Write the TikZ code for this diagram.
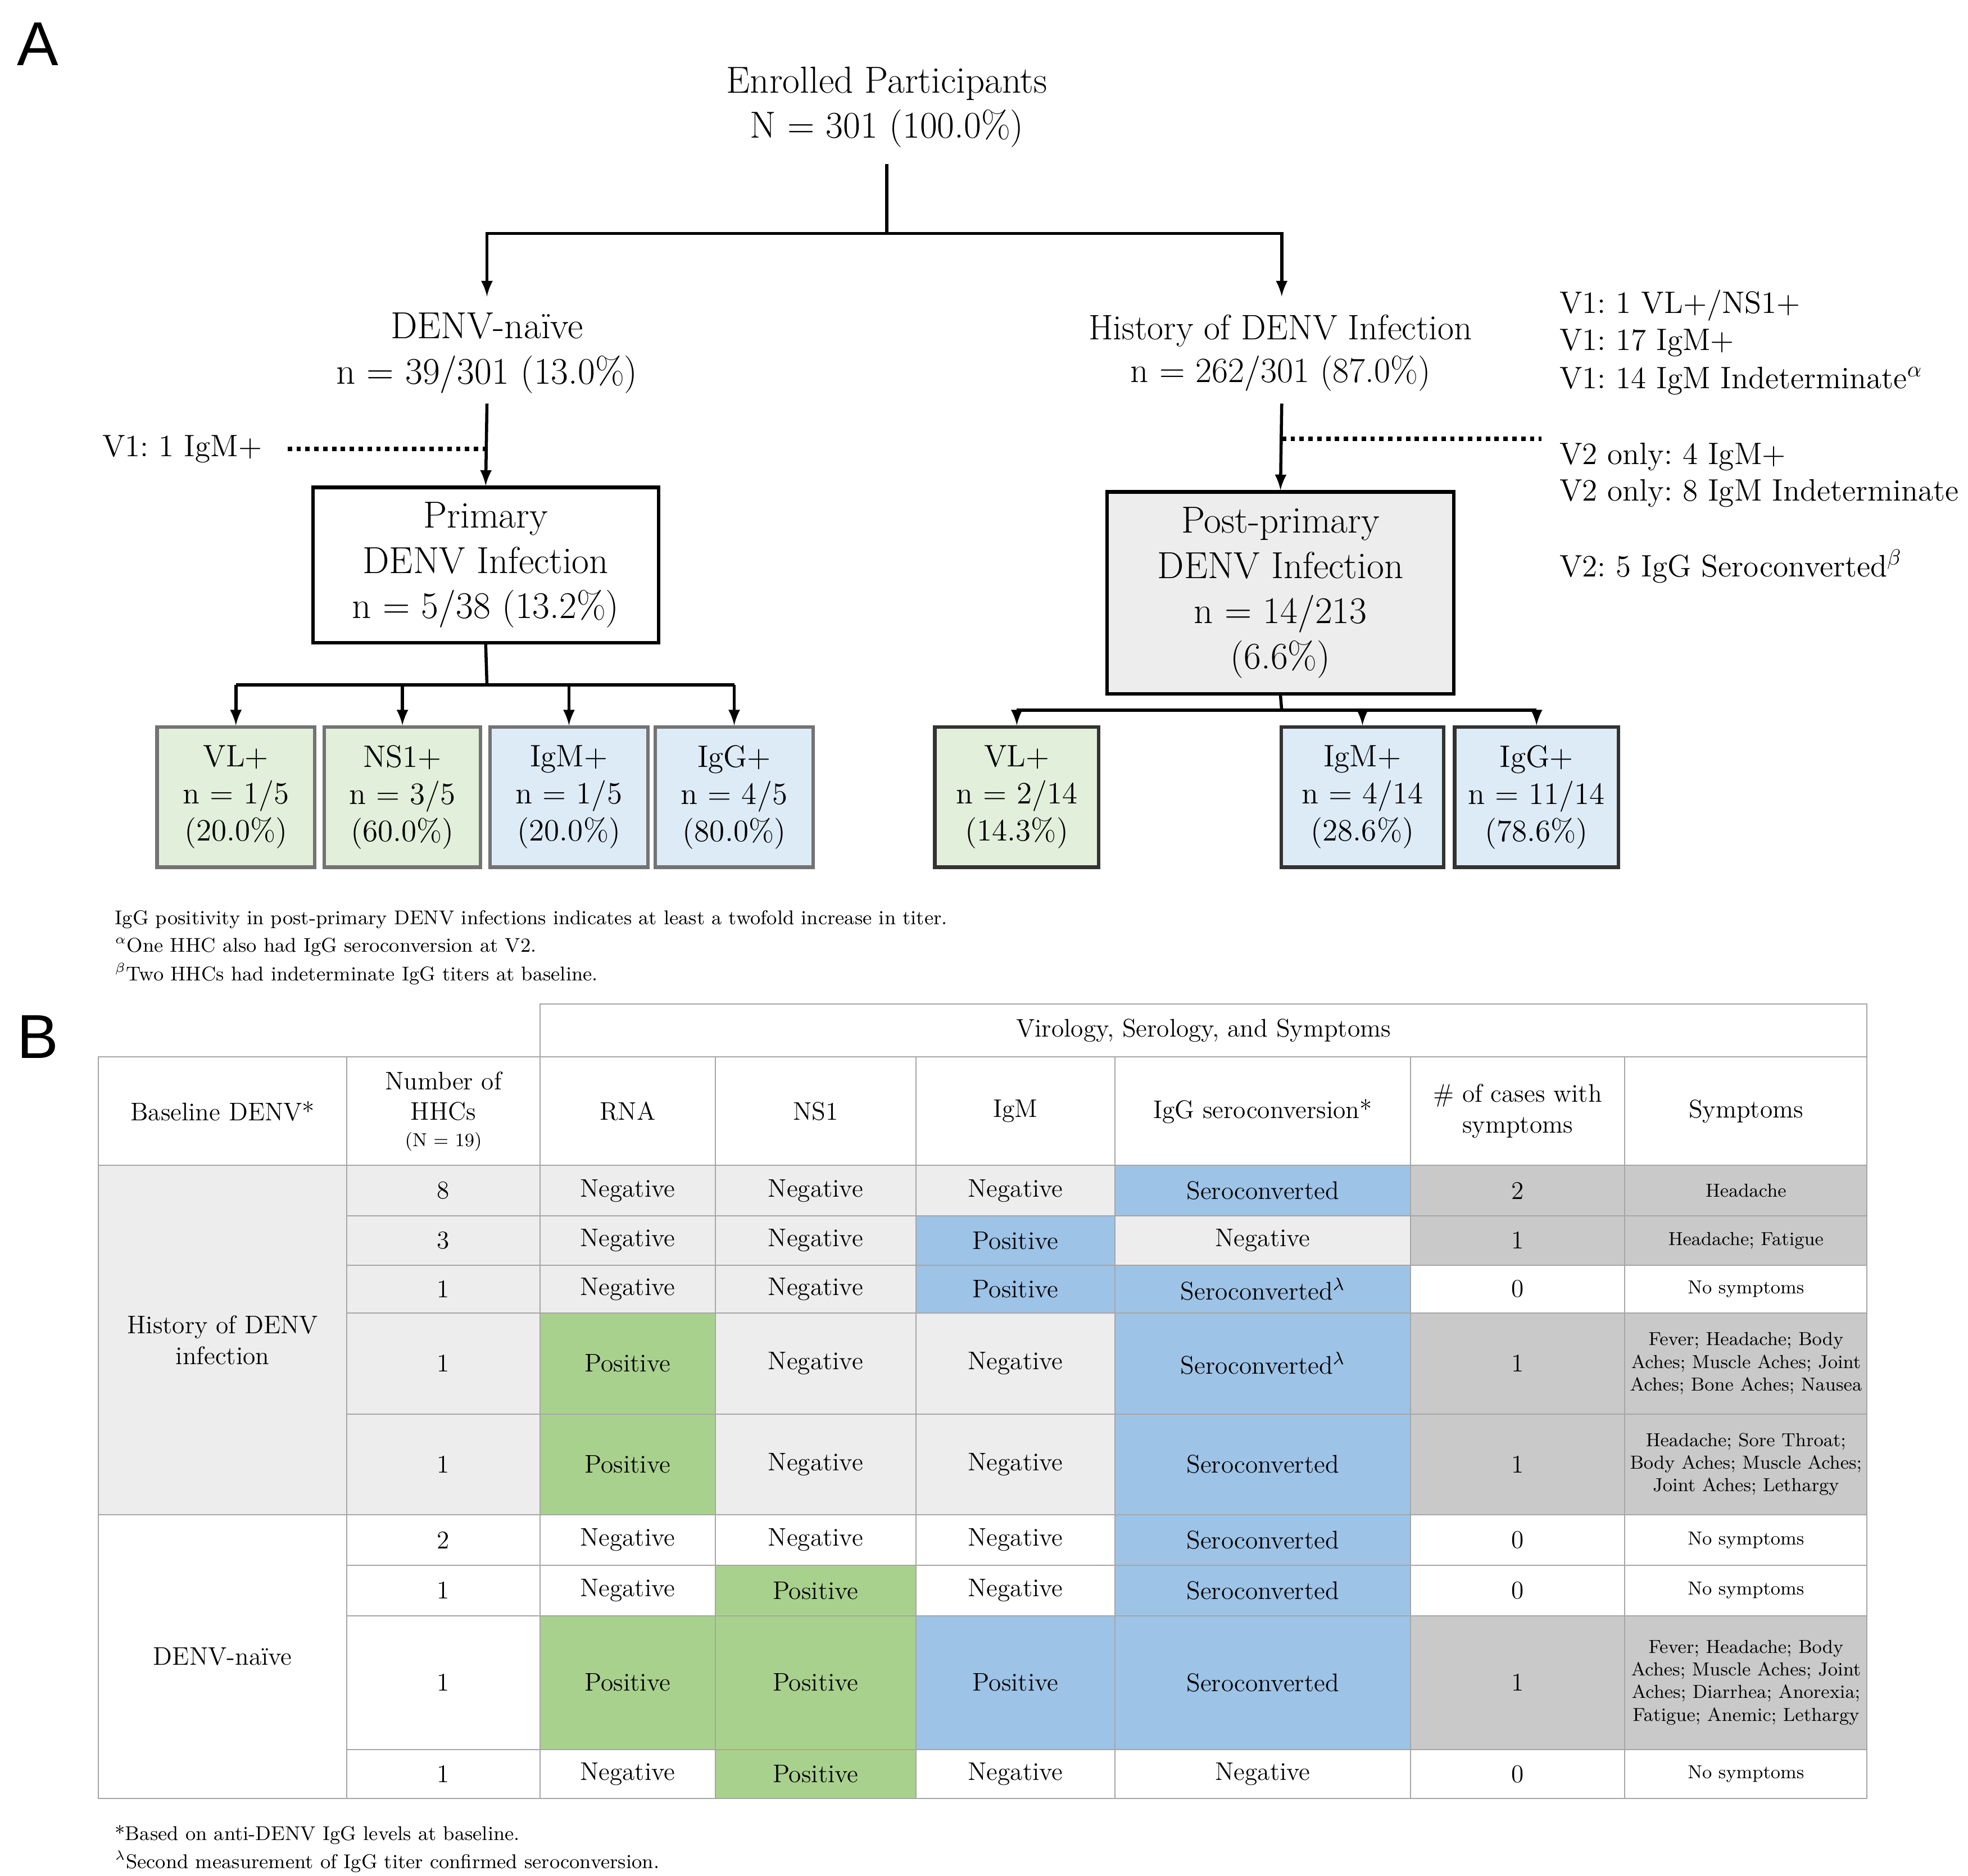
\documentclass[tikz,border=0pt]{standalone}
\usepackage{fontspec}
\newfontfamily\labfont{Liberation Sans}
\usetikzlibrary{positioning, arrows.meta}
\definecolor{boxgreen}{HTML}{E2EFDA}
\definecolor{boxblue}{HTML}{DDEBF7}
\definecolor{cgreen}{HTML}{A9D18E}
\definecolor{cblue}{HTML}{9DC3E6}
\definecolor{cdark}{HTML}{C9C9C9}
\definecolor{clight}{HTML}{EDEDED}
\newcommand\fs[1]{\fontsize{#1}{1.2\dimexpr#1pt\relax}\selectfont}
% one table cell between x=#2 and x=#3, rows set by \ya and \yb
\newcommand\tc[5][]{\node[tcell,#1,fill=#4,minimum width={(#3-#2)*0.02cm},
  minimum height={(\yb-\ya)*0.02cm}] at ({(#2+#3)/2},{(\ya+\yb)/2}) {#5};}
\frenchspacing
\begin{document}
\begin{tikzpicture}[x=0.02cm,y=-0.02cm,
        big/.style={align=center,font=\fs{17}},
        note/.style={anchor=west,font=\fs{14}},
        main/.style={% For the two framed boxes
            draw,line width=1.6pt,align=center,font=\fs{17},inner sep=0pt},
        res/.style={% For the result boxes
            draw=black!55,line width=1.6pt,align=center,font=\fs{14},inner sep=0pt,
            minimum height=111*0.02cm},
        tcell/.style={draw=black!35,line width=0.5pt,align=center,inner sep=0pt,font=\fs{11.5}},
        sym/.style={font=\fs{8.5}},
        foot/.style={anchor=west,font=\fs{9}},
        arr/.style={line width=1.4pt,-latex},
        link/.style={line width=1.4pt},
        dots/.style={line width=2pt,dotted},
    ]
\useasboundingbox (0,0) rectangle (1560,1487);
% Part A
\node[font=\labfont\fs{28}] (labA) at (30,35) {A};
\node[big] (enr) at (703,85) {Enrolled Participants\\N = 301 (100.0\%)};
\node[big] (naive) at (386,280) {DENV-na\"ive\\n = 39/301 (13.0\%)};
\node[big,font=\fs{16}] (hist) at (1015,280) {History of DENV Infection\\n = 262/301 (87.0\%)};
\coordinate (split) at (703,185);
\draw[link] (703,130) -- (split);
\draw[arr] (split) -| (386,235);
\draw[arr] (split) -| (1016,235);
\node[main,minimum width=274*0.02cm,minimum height=123*0.02cm] (prim) at (385,448)
  {Primary\\DENV Infection\\n = 5/38 (13.2\%)};
\node[main,fill=clight,minimum width=275*0.02cm,minimum height=160*0.02cm] (post) at (1015,470)
  {Post-primary\\DENV Infection\\n = 14/213\\(6.6\%)};
\draw[arr] (386,320) -- (prim.north);
\draw[arr] (1016,320) -- (post.north);
\node[note] (v1a) at (75,356) {V1: 1 IgM+};
\draw[dots] (228,356) -- (386,356);
\draw[dots] (1016,348) -- (1222,348);
\node[note] (n1) at (1230,242) {V1: 1 VL+/NS1+};
\node[note] (n2) at (1230,272) {V1: 17 IgM+};
\node[note] (n3) at (1230,302) {V1: 14 IgM Indeterminate$^{\alpha}$};
\node[note] (n4) at (1230,362) {V2 only: 4 IgM+};
\node[note] (n5) at (1230,391) {V2 only: 8 IgM Indeterminate};
\node[note] (n6) at (1230,449) {V2: 5 IgG Seroconverted$^{\beta}$};
% primary results
\node[res,fill=boxgreen,minimum width=125*0.02cm] (pvl) at (187,632) {VL+\\n = 1/5\\(20.0\%)};
\node[res,fill=boxgreen,minimum width=124*0.02cm] (pns) at (319,632) {NS1+\\n = 3/5\\(60.0\%)};
\node[res,fill=boxblue,minimum width=125*0.02cm] (pigm) at (451,632) {IgM+\\n = 1/5\\(20.0\%)};
\node[res,fill=boxblue,minimum width=125*0.02cm] (pigg) at (582,632) {IgG+\\n = 4/5\\(80.0\%)};
\coordinate (psplit) at (386,543);
\draw[link] (prim.south) -- (psplit);
\draw[link] (187,543) -- (582,543);
\foreach \X in {pvl,pns,pigm,pigg}
  {\draw[arr] (\X.north |- psplit) -- (\X.north);}
% post-primary results
\node[res,draw=black!80,fill=boxgreen,minimum width=130*0.02cm] (qvl) at (806,632) {VL+\\n = 2/14\\(14.3\%)};
\node[res,draw=black!80,fill=boxblue,minimum width=129*0.02cm] (qigm) at (1080,632) {IgM+\\n = 4/14\\(28.6\%)};
\node[res,draw=black!80,fill=boxblue,minimum width=130*0.02cm] (qigg) at (1218,632) {IgG+\\n = 11/14\\(78.6\%)};
\coordinate (qsplit) at (1016,563);
\draw[link] (post.south) -- (qsplit);
\draw[link] (806,563) -- (1218,563);
\foreach \X in {qvl,qigm,qigg}
  {\draw[arr] (\X.north |- qsplit) -- (\X.north);}
\node[foot] (f1) at (85,729) {IgG positivity in post-primary DENV infections indicates at least a twofold increase in titer.};
\node[foot] (f2) at (85,751) {$^{\alpha}$One HHC also had IgG seroconversion at V2.};
\node[foot] (f3) at (85,772) {$^{\beta}$Two HHCs had indeterminate IgG titers at baseline.};
% Part B
\node[font=\labfont\fs{28}] (labB) at (30,822) {B};
\def\ya{796}\def\yb{838}
\tc{428}{1480}{white}{Virology, Serology, and Symptoms}
\def\ya{838}\def\yb{924}
\tc{78}{275}{white}{Baseline DENV*}
\tc{275}{428}{white}{Number of\\HHCs\\[-2pt]{\fs{8.5}(N = 19)}}
\tc{428}{567}{white}{RNA}
\tc{567}{726}{white}{NS1}
\tc{726}{884}{white}{IgM}
\tc{884}{1118}{white}{IgG seroconversion*}
\tc{1118}{1288}{white}{\# of cases with\\symptoms}
\tc{1288}{1480}{white}{Symptoms}
\def\ya{924}\def\yb{1201}
\tc{78}{275}{clight}{History of DENV\\infection}
\def\ya{1201}\def\yb{1426}
\tc{78}{275}{white}{DENV-na\"ive}
% rows
\def\ya{924}\def\yb{964}
\tc{275}{428}{clight}{8}\tc{428}{567}{clight}{Negative}\tc{567}{726}{clight}{Negative}
\tc{726}{884}{clight}{Negative}\tc{884}{1118}{cblue}{Seroconverted}\tc{1118}{1288}{cdark}{2}
\tc[sym]{1288}{1480}{cdark}{Headache}
\def\ya{964}\def\yb{1003}
\tc{275}{428}{clight}{3}\tc{428}{567}{clight}{Negative}\tc{567}{726}{clight}{Negative}
\tc{726}{884}{cblue}{Positive}\tc{884}{1118}{clight}{Negative}\tc{1118}{1288}{cdark}{1}
\tc[sym]{1288}{1480}{cdark}{Headache; Fatigue}
\def\ya{1003}\def\yb{1041}
\tc{275}{428}{clight}{1}\tc{428}{567}{clight}{Negative}\tc{567}{726}{clight}{Negative}
\tc{726}{884}{cblue}{Positive}\tc{884}{1118}{cblue}{Seroconverted$^{\lambda}$}\tc{1118}{1288}{white}{0}
\tc[sym]{1288}{1480}{white}{No symptoms}
\def\ya{1041}\def\yb{1121}
\tc{275}{428}{clight}{1}\tc{428}{567}{cgreen}{Positive}\tc{567}{726}{clight}{Negative}
\tc{726}{884}{clight}{Negative}\tc{884}{1118}{cblue}{Seroconverted$^{\lambda}$}\tc{1118}{1288}{cdark}{1}
\tc[sym]{1288}{1480}{cdark}{Fever; Headache; Body\\Aches; Muscle Aches; Joint\\Aches; Bone Aches; Nausea}
\def\ya{1121}\def\yb{1201}
\tc{275}{428}{clight}{1}\tc{428}{567}{cgreen}{Positive}\tc{567}{726}{clight}{Negative}
\tc{726}{884}{clight}{Negative}\tc{884}{1118}{cblue}{Seroconverted}\tc{1118}{1288}{cdark}{1}
\tc[sym]{1288}{1480}{cdark}{Headache; Sore Throat;\\Body Aches; Muscle Aches;\\Joint Aches; Lethargy}
\def\ya{1201}\def\yb{1241}
\tc{275}{428}{white}{2}\tc{428}{567}{white}{Negative}\tc{567}{726}{white}{Negative}
\tc{726}{884}{white}{Negative}\tc{884}{1118}{cblue}{Seroconverted}\tc{1118}{1288}{white}{0}
\tc[sym]{1288}{1480}{white}{No symptoms}
\def\ya{1241}\def\yb{1281}
\tc{275}{428}{white}{1}\tc{428}{567}{white}{Negative}\tc{567}{726}{cgreen}{Positive}
\tc{726}{884}{white}{Negative}\tc{884}{1118}{cblue}{Seroconverted}\tc{1118}{1288}{white}{0}
\tc[sym]{1288}{1480}{white}{No symptoms}
\def\ya{1281}\def\yb{1387}
\tc{275}{428}{white}{1}\tc{428}{567}{cgreen}{Positive}\tc{567}{726}{cgreen}{Positive}
\tc{726}{884}{cblue}{Positive}\tc{884}{1118}{cblue}{Seroconverted}\tc{1118}{1288}{cdark}{1}
\tc[sym]{1288}{1480}{cdark}{Fever; Headache; Body\\Aches; Muscle Aches; Joint\\Aches; Diarrhea; Anorexia;\\Fatigue; Anemic; Lethargy}
\def\ya{1387}\def\yb{1426}
\tc{275}{428}{white}{1}\tc{428}{567}{white}{Negative}\tc{567}{726}{cgreen}{Positive}
\tc{726}{884}{white}{Negative}\tc{884}{1118}{white}{Negative}\tc{1118}{1288}{white}{0}
\tc[sym]{1288}{1480}{white}{No symptoms}
\node[foot] (f4) at (85,1455) {*Based on anti-DENV IgG levels at baseline.};
\node[foot] (f5) at (85,1476) {$^{\lambda}$Second measurement of IgG titer confirmed seroconversion.};
\end{tikzpicture}
\end{document}
